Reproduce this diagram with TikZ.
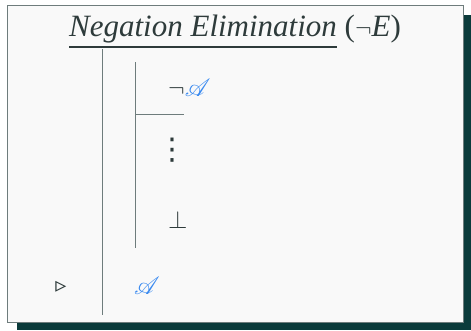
\documentclass[tikz,border=0pt]{standalone}
\usepackage{amsmath,amssymb}
\usepackage{mathrsfs}
\usepackage{fontspec}
\setmainfont{Liberation Serif}
\newfontfamily\symfont{DejaVu Sans}
\definecolor{shadowc}{HTML}{0B3B3B}
\definecolor{boxfill}{HTML}{F9F9F9}
\definecolor{boxline}{HTML}{6E7C7C}
\definecolor{ink}{HTML}{2E3B3B}
\definecolor{metablue}{HTML}{3A8AF0}
\tikzset{
  barline/.style={draw=boxline, line width=0.9pt},
  formula/.style={inner sep=0pt, anchor=base west, text=ink, font=\fontsize{26}{30}\selectfont},
}
\begin{document}
\begin{tikzpicture}[x=1pt,y=-1pt]
\useasboundingbox (0,0) rectangle (471,330);
\fill[shadowc] (17,15) rectangle (471,330);
\draw[fill=boxfill, draw=boxline, line width=1pt] (7,5) rectangle (463,322);
\node[inner sep=0pt, anchor=base, text=ink, font=\fontsize{31}{36}\selectfont] (title) at (235,36) {\underline{\textit{Negation Elimination}} ($\neg\mathit{E}$)};
\coordinate (o1) at (102.5,49);
\coordinate (o2) at (102.5,315);
\draw[barline] (o1) -- (o2);
\coordinate (i1) at (135.5,62);
\coordinate (i2) at (135.5,248);
\draw[barline] (i1) -- (i2);
\coordinate (h2) at (184,114.5);
\draw[barline] (i1 |- h2) -- (h2);
\node[formula] (nega) at (168,96) {$\neg\textcolor{metablue}{\mathscr{A}}$};
\node[formula, anchor=center, font=\symfont\fontsize{30}{34}\selectfont] (dots) at (172,150) {⋮};
\node[formula] (bot) at (168,228) {$\bot$};
\node[formula, anchor=center, font=\symfont\bfseries\fontsize{22}{26}\selectfont] (tri) at (61,287) {▹};
\node[formula] (conc) at (134,294) {$\textcolor{metablue}{\mathscr{A}}$};
\end{tikzpicture}
\end{document}
